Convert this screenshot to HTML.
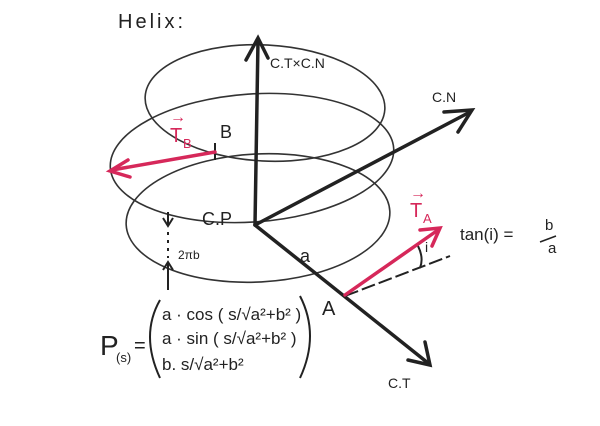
<!DOCTYPE html>
<html><head><style>
body{margin:0;background:#fff;width:600px;height:421px;overflow:hidden}
svg text{font-family:"Liberation Sans",sans-serif;fill:#222}
</style></head><body>
<svg width="600" height="421" viewBox="0 0 600 421" xmlns="http://www.w3.org/2000/svg">
<g fill="none" stroke="#333" stroke-width="1.6">
<ellipse cx="265" cy="103" rx="120" ry="58" transform="rotate(3 265 103)"/>
<ellipse cx="252" cy="158" rx="142" ry="64" transform="rotate(-4 252 158)"/>
<ellipse cx="258" cy="218" rx="132" ry="64" transform="rotate(-3 258 218)"/>
</g>
<g stroke="#222" stroke-width="3.5" fill="none" stroke-linecap="round">
<line x1="255" y1="225" x2="258" y2="40"/>
<polyline points="246,60 258,38 268,58"/>
<line x1="255" y1="225" x2="470" y2="112"/>
<polyline points="444,112 472,110 458,132"/>
<line x1="255" y1="225" x2="428" y2="363"/>
<polyline points="408,360 430,365 425,342"/>
</g>
<g stroke="#222" stroke-width="2" fill="none">
<line x1="168" y1="212" x2="168" y2="225"/><polyline points="163,218 168,226 173,218"/>
<line x1="168" y1="232" x2="168" y2="258" stroke-dasharray="3,5"/>
<line x1="168" y1="262" x2="168" y2="290"/><polyline points="163,270 168,262 173,270"/>
<line x1="215" y1="143" x2="215" y2="160"/>
<line x1="345" y1="296" x2="450" y2="256" stroke-dasharray="14,4"/>
<path d="M418 246 Q424 258 420 268"/>
<path d="M160 300 Q140 335 160 378"/>
<path d="M300 296 Q320 335 300 378"/>
</g>
<g stroke="#d6285a" stroke-width="3.5" fill="none" stroke-linecap="round">
<line x1="215" y1="152" x2="112" y2="170"/>
<polyline points="128,160 110,171 130,177"/>
<line x1="345" y1="295" x2="438" y2="230"/>
<polyline points="420,230 440,228 432,246"/>
</g>
<text x="170" y="142" font-size="20" style="fill:#d6285a">T</text><text x="183" y="148" font-size="13" style="fill:#d6285a">B</text>
<text x="410" y="217" font-size="20" style="fill:#d6285a">T</text><text x="423" y="223" font-size="13" style="fill:#d6285a">A</text>
<text x="170" y="122" font-size="16" style="fill:#d6285a">→</text>
<text x="410" y="198" font-size="16" style="fill:#d6285a">→</text>
<text x="118" y="28" font-size="20" letter-spacing="3">Helix:</text>
<text x="270" y="68" font-size="14">C.T×C.N</text>
<text x="432" y="102" font-size="14">C.N</text>
<text x="220" y="138" font-size="18">B</text>
<text x="202" y="225" font-size="18">C.P</text>
<text x="178" y="259" font-size="12">2πb</text>
<text x="300" y="262" font-size="18">a</text>
<text x="322" y="315" font-size="20">A</text>
<text x="388" y="388" font-size="14">C.T</text>
<text x="425" y="252" font-size="14">i</text>
<text x="460" y="240" font-size="17">tan(i) =</text>
<text x="545" y="230" font-size="15">b</text><line x1="540" y1="242" x2="556" y2="236" stroke="#222" stroke-width="1.5"/><text x="548" y="253" font-size="15">a</text>
<text x="100" y="355" font-size="28">P</text><text x="116" y="362" font-size="13">(s)</text><text x="134" y="352" font-size="20">=</text>
<text x="162" y="320" font-size="17">a · cos ( s/√a²+b² )</text>
<text x="162" y="344" font-size="17">a · sin ( s/√a²+b² )</text>
<text x="162" y="370" font-size="17">b.   s/√a²+b²</text>
</svg>
</body></html>
